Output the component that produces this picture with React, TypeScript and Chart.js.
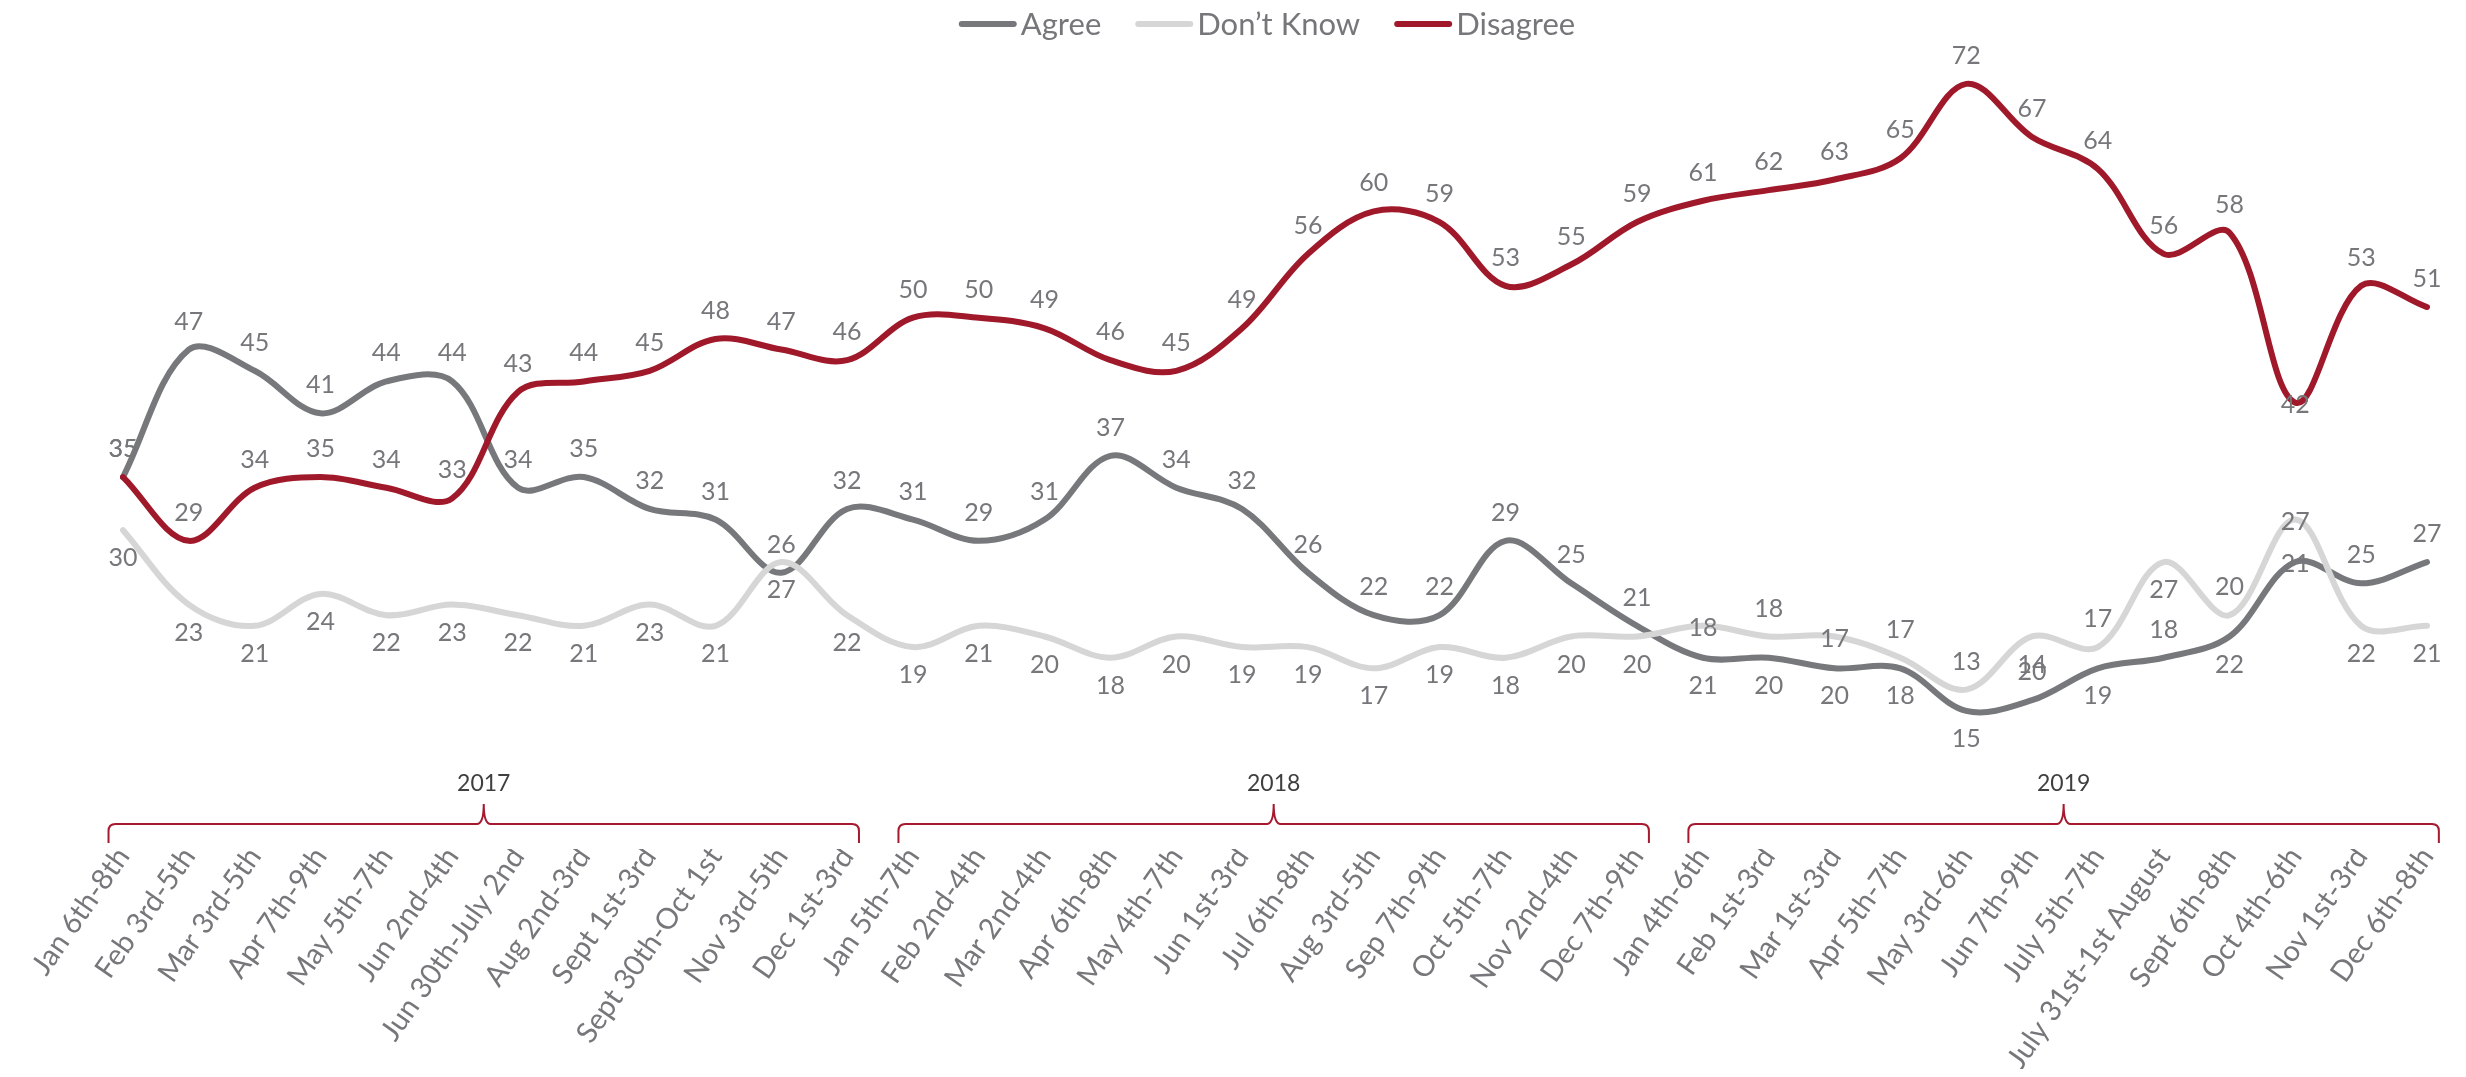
import React, { useEffect, useRef } from 'react';
import { Chart, registerables } from 'chart.js';

Chart.register(...registerables);

// ---------- data ----------
const categories = [
  'Jan 6th-8th', 'Feb 3rd-5th', 'Mar 3rd-5th', 'Apr 7th-9th', 'May 5th-7th', 'Jun 2nd-4th',
  'Jun 30th-July 2nd', 'Aug 2nd-3rd', 'Sept 1st-3rd', 'Sept 30th-Oct 1st', 'Nov 3rd-5th', 'Dec 1st-3rd',
  'Jan 5th-7th', 'Feb 2nd-4th', 'Mar 2nd-4th', 'Apr 6th-8th', 'May 4th-7th', 'Jun 1st-3rd',
  'Jul 6th-8th', 'Aug 3rd-5th', 'Sep 7th-9th', 'Oct 5th-7th', 'Nov 2nd-4th', 'Dec 7th-9th',
  'Jan 4th-6th', 'Feb 1st-3rd', 'Mar 1st-3rd', 'Apr 5th-7th', 'May 3rd-6th', 'Jun 7th-9th',
  'July 5th-7th', 'July 31st-1st August', 'Sept 6th-8th', 'Oct 4th-6th', 'Nov 1st-3rd', 'Dec 6th-8th',
];

// plotted line values (as drawn)
const agreeValues = [
  35, 47, 45, 41, 44, 44, 34, 35, 32, 31, 26, 32,
  31, 29, 31, 37, 34, 32, 26, 22, 22, 29, 25, 21,
  18, 18, 17, 17, 13, 14, 17, 18, 20, 27, 25, 27,
];
const dontKnowValues = [
  30, 23, 21, 24, 22, 23, 22, 21, 23, 21, 27, 22,
  19, 21, 20, 18, 20, 19, 19, 17, 19, 18, 20, 20,
  21, 20, 20, 18, 15, 20, 19, 27, 22, 31, 21, 21,
];
const disagreeValues = [
  35, 29, 34, 35, 34, 33, 43, 44, 45, 48, 47, 46,
  50, 50, 49, 46, 45, 49, 56, 60, 59, 53, 55, 59,
  61, 62, 63, 65, 72, 67, 64, 56, 58, 42, 53, 51,
];

// data-label texts as printed on the chart
const agreeLabels = [
  35, 47, 45, 41, 44, 44, 34, 35, 32, 31, 26, 32,
  31, 29, 31, 37, 34, 32, 26, 22, 22, 29, 25, 21,
  21, 20, 20, 18, 15, 20, 19, 18, 22, 21, 25, 27,
];
const dontKnowLabels = [
  30, 23, 21, 24, 22, 23, 22, 21, 23, 21, 27, 22,
  19, 21, 20, 18, 20, 19, 19, 17, 19, 18, 20, 20,
  18, 18, 17, 17, 13, 14, 17, 27, 20, 27, 22, 21,
];
const disagreeLabels = disagreeValues.slice();

// label anchor: a = above, b = below, c = on the point
const agreeLabelPos = ('aaaaaaaaaaaa' + 'aaaaaaaaaaaa' + 'bbbbbababcaa').split('');
const dontKnowLabelPos = ('bbbbbbbbbbbb' + 'bbbbbbbbbbbb' + 'cacaababacbb').split('');
const disagreeLabelPos = ('aaaaaaaaaaaa' + 'aaaaaaaaaaaa' + 'aaaaaaaaacaa').split('');

const seriesNames = ['Agree', 'Don\u2019t Know', 'Disagree'];
const years = ['2017', '2018', '2019'];
const yearFirstIndex = [0, 12, 24];
const yearLastIndex = [11, 23, 35];

// ---------- style ----------
const FONT = 'Lato, "Open Sans", "Noto Sans", sans-serif';
const TEXT = '#77777b';
const COLORS = ['#77787c', '#d6d6d6', '#a0192a'];
const BRACKET = '#a6192e';

const valueLabelPlugin = {
  id: 'valueLabels',
  afterDatasetsDraw(chart: any) {
    const ctx = chart.ctx;
    ctx.save();
    ctx.font = `25px ${FONT}`;
    ctx.fillStyle = TEXT;
    ctx.textAlign = 'center';
    ctx.textBaseline = 'middle';
    const sets: [number, number[], string[]][] = [
      [0, agreeLabels, agreeLabelPos],
      [1, dontKnowLabels, dontKnowLabelPos],
      [2, disagreeLabels, disagreeLabelPos],
    ];
    sets.forEach(([di, labels, pos]) => {
      const meta = chart.getDatasetMeta(di);
      meta.data.forEach((pt: any, i: number) => {
        const p = pos[i];
        const dy = p === 'a' ? -28 : p === 'b' ? 28 : 2;
        ctx.fillText(String(labels[i]), pt.x, pt.y + dy);
      });
    });
    ctx.restore();
  },
};

const bracketPlugin = {
  id: 'yearBrackets',
  afterDraw(chart: any) {
    const ctx = chart.ctx;
    const xs = chart.scales.x;
    const step = xs.getPixelForValue(1) - xs.getPixelForValue(0);
    const yLine = chart.chartArea.bottom - 25;
    const yEnd = yLine + 19;
    const yPeak = yLine - 20;
    const r = 7;
    ctx.save();
    ctx.strokeStyle = BRACKET;
    ctx.lineWidth = 2;
    ctx.font = `23px ${FONT}`;
    ctx.fillStyle = '#3f3f3f';
    ctx.textAlign = 'center';
    ctx.textBaseline = 'middle';
    years.forEach((yr, g) => {
      const left = xs.getPixelForValue(yearFirstIndex[g]) - 0.22 * step;
      const right = xs.getPixelForValue(yearLastIndex[g]) + 0.18 * step;
      const mid = (left + right) / 2;
      ctx.beginPath();
      ctx.moveTo(left, yEnd);
      ctx.lineTo(left, yLine + r);
      ctx.quadraticCurveTo(left, yLine, left + r, yLine);
      ctx.lineTo(mid - r, yLine);
      ctx.quadraticCurveTo(mid, yLine, mid, yPeak);
      ctx.quadraticCurveTo(mid, yLine, mid + r, yLine);
      ctx.lineTo(right - r, yLine);
      ctx.quadraticCurveTo(right, yLine, right, yLine + r);
      ctx.lineTo(right, yEnd);
      ctx.stroke();
      ctx.fillText(yr, mid, yLine - 40);
    });
    ctx.restore();
  },
};

const legendPlugin = {
  id: 'topLegend',
  afterDraw(chart: any) {
    const ctx = chart.ctx;
    ctx.save();
    ctx.font = `31px ${FONT}`;
    const lineW = 58;
    const gapText = 4;
    const gapItem = 34;
    const widths = seriesNames.map((n) => ctx.measureText(n).width);
    const total = widths.reduce((s, w) => s + lineW + gapText + w, 0) + gapItem * (seriesNames.length - 1);
    const ca = chart.chartArea;
    let x = (ca.left + ca.right) / 2 - 8 - total / 2;
    const y = 16;
    seriesNames.forEach((n, i) => {
      ctx.strokeStyle = COLORS[i];
      ctx.lineWidth = 6;
      ctx.lineCap = 'round';
      ctx.beginPath();
      ctx.moveTo(x + 3, y);
      ctx.lineTo(x + lineW - 3, y);
      ctx.stroke();
      x += lineW + gapText;
      ctx.fillStyle = TEXT;
      ctx.textAlign = 'left';
      ctx.textBaseline = 'middle';
      ctx.fillText(n, x, y + 1);
      x += widths[i] + gapItem;
    });
    ctx.restore();
  },
};

export default function App() {
  const canvasRef = useRef<HTMLCanvasElement | null>(null);

  useEffect(() => {
    if (!canvasRef.current) return;
    const mk = (i: number, data: number[], order: number) => ({
      label: seriesNames[i],
      data,
      borderColor: COLORS[i],
      backgroundColor: COLORS[i],
      borderWidth: 6,
      pointRadius: 0,
      pointHoverRadius: 0,
      tension: 0.35,
      cubicInterpolationMode: 'default' as const,
      borderCapStyle: 'round' as const,
      borderJoinStyle: 'round' as const,
      fill: false,
      order,
    });
    const chart = new Chart(canvasRef.current, {
      type: 'line',
      data: {
        labels: categories,
        datasets: [mk(0, agreeValues, 2), mk(1, dontKnowValues, 1), mk(2, disagreeValues, 0)],
      },
      options: {
        responsive: false,
        animation: false,
        devicePixelRatio: 1,
        layout: { padding: { top: 44, left: 115, right: 31, bottom: 0 } },
        plugins: {
          legend: { display: false },
          tooltip: { enabled: false },
          title: { display: false },
        },
        scales: {
          x: {
            type: 'category',
            offset: false,
            grid: { display: false, drawTicks: false },
            border: { display: false },
            ticks: {
              autoSkip: false,
              maxRotation: 55,
              minRotation: 55,
              padding: -8,
              color: TEXT,
              font: { family: FONT, size: 29 },
            },
            afterFit: (scale: any) => {
              scale.height = 220;
            },
          },
          y: {
            display: false,
            min: 0,
            max: 75,
          },
        },
      },
      plugins: [valueLabelPlugin, bracketPlugin, legendPlugin],
    });
    return () => chart.destroy();
  }, []);

  return (
    <canvas
      ref={canvasRef}
      width={2450}
      height={1061}
      style={{ display: 'block', width: 2450, height: 1061 }}
    />
  );
}
